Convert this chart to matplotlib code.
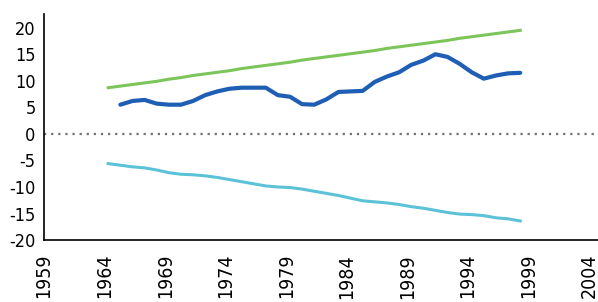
import matplotlib
matplotlib.use("Agg")
import matplotlib.pyplot as plt

years_g = list(range(1964, 1999))
green = [8.7, 9.0, 9.3, 9.6, 9.9, 10.3, 10.6, 11.0, 11.3, 11.6, 11.9, 12.3, 12.6,
         12.9, 13.2, 13.5, 13.9, 14.2, 14.5, 14.8, 15.1, 15.4, 15.7, 16.1, 16.4,
         16.7, 17.0, 17.3, 17.6, 18.0, 18.3, 18.6, 18.9, 19.2, 19.5]
cyan = [-5.6, -5.9, -6.2, -6.4, -6.8, -7.3, -7.6, -7.7, -7.9, -8.2, -8.6, -9.0,
        -9.4, -9.8, -10.0, -10.1, -10.4, -10.8, -11.2, -11.6, -12.1, -12.6, -12.8,
        -13.0, -13.3, -13.7, -14.0, -14.4, -14.8, -15.1, -15.2, -15.4, -15.8,
        -16.0, -16.4]
years_b = list(range(1965, 1999))
blue = [5.5, 6.2, 6.4, 5.7, 5.5, 5.5, 6.2, 7.3, 8.0, 8.5, 8.7, 8.7, 8.7, 7.3,
        7.0, 5.6, 5.5, 6.5, 7.9, 8.0, 8.1, 9.8, 10.8, 11.6, 13.0, 13.8, 15.0,
        14.5, 13.2, 11.6, 10.4, 11.0, 11.4, 11.5]
xticks = list(range(1959, 2005, 5))
yticks = [-20, -15, -10, -5, 0, 5, 10, 15, 20]

fig = plt.figure(figsize=(5.98, 3.02), dpi=100)
ax = fig.add_axes([0.0736, 0.205, 0.926, 0.749])

ax.axhline(0, color="#707070", lw=1.6, linestyle=(0, (1, 2.2)), zorder=1)
ax.plot([y + 0.3 for y in years_g], green, color="#7cc55a", lw=2.2, zorder=2)
ax.plot([y + 0.3 for y in years_g], cyan, color="#5cc2d8", lw=2.2, zorder=2)
ax.plot([y + 0.3 for y in years_b], blue, color="#1e5eb4", lw=3.0, zorder=3,
        solid_joinstyle="round", solid_capstyle="round")

ax.set_xlim(1959, 2004.7)
ax.set_ylim(-20, 22.6)
ax.set_xticks(xticks)
ax.set_xticklabels([str(x) for x in xticks], rotation=90, fontsize=14,
                   family="DejaVu Sans", fontstretch="condensed")
ax.set_yticks(yticks)
ax.set_yticklabels([str(y) for y in yticks], fontsize=13,
                   family="DejaVu Sans", fontstretch="condensed")
ax.tick_params(length=0)
ax.tick_params(axis="y", pad=6)
ax.tick_params(axis="x", pad=10)
for s in ["top", "right"]:
    ax.spines[s].set_visible(False)
for s in ["left", "bottom"]:
    ax.spines[s].set_color("black")
    ax.spines[s].set_linewidth(1.2)

fig.savefig("out.png", dpi=100)
